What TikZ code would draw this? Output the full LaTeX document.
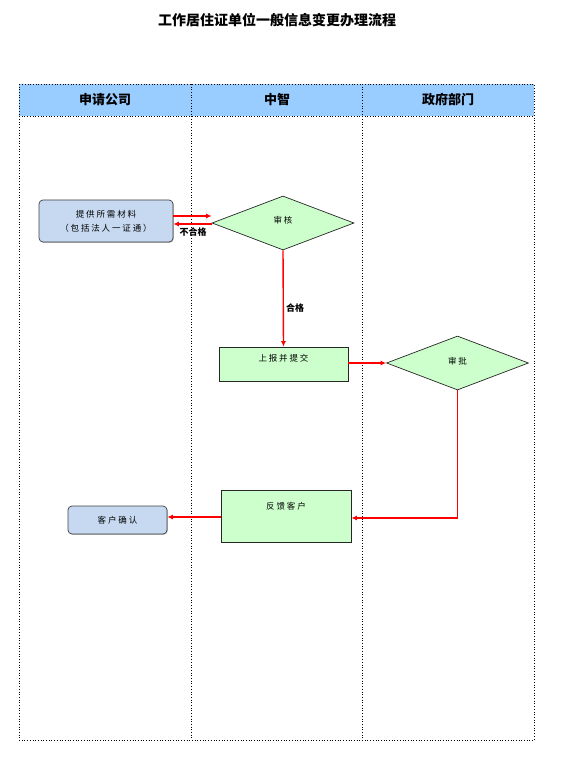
\documentclass[tikz,border=0pt]{standalone}
\usepackage{fontspec}
\setmainfont{Noto Sans CJK SC}
\newfontfamily\cjksp[LetterSpace=22]{Noto Sans CJK SC}
\usetikzlibrary{shapes.geometric,arrows.meta,shadows}
\definecolor{hdrblue}{HTML}{99CCFF}
\definecolor{boxblue}{HTML}{C6D9F1}
\definecolor{boxgreen}{HTML}{CCFFCC}
\definecolor{arrred}{HTML}{FF0000}
\begin{document}
\begin{tikzpicture}[x=1pt,y=-1pt,
  lane/.style={draw=black,dotted,line width=0.7pt},
  hdr/.style={font=\fontsize{13}{15}\selectfont\bfseries},
  bluebox/.style={draw=black!75,fill=boxblue,rounded corners=4pt,line width=0.7pt,
     drop shadow={shadow xshift=0.8pt,shadow yshift=-0.8pt,fill=black!50},
     font=\cjksp\fontsize{8.5}{14}\selectfont,align=center,inner sep=0pt},
  greenbox/.style={draw=black!85,fill=boxgreen,line width=0.7pt,inner sep=0pt,
     drop shadow={shadow xshift=0.8pt,shadow yshift=-0.8pt,fill=black!50}},
  decision/.style={diamond,draw=black!85,fill=boxgreen,line width=0.7pt,inner sep=0pt,
     minimum width=142pt,minimum height=54pt,aspect=2.63,font=\cjksp\fontsize{8.5}{10}\selectfont},
  boxtxt/.style={font=\cjksp\fontsize{8.5}{10}\selectfont,inner sep=0pt},
  lbl/.style={font=\fontsize{9}{10}\selectfont\bfseries,inner sep=0pt},
  flow/.style={draw=arrred,line width=1.4pt,-{Latex[length=5.5pt,width=5pt]}}
]
\useasboundingbox (0,0) rectangle (561,759);
% title
\node[font=\fontsize{14}{16}\selectfont\bfseries] (title) at (277,20) {工作居住证单位一般信息变更办理流程};
% header
\fill[hdrblue] (19,84) rectangle (534,116);
\draw[lane] (19,84) rectangle (534,740);
\draw[lane] (19,116) -- (534,116);
\draw[lane] (191,84) -- (191,740);
\draw[lane] (362,84) -- (362,740);
\node[hdr] (h1) at (105,100) {申请公司};
\node[hdr] (h2) at (277,100) {中智};
\node[hdr] (h3) at (448,100) {政府部门};
% nodes
\node[bluebox,minimum width=134pt,minimum height=42pt] (mat) at (106,221) {提供所需材料\\（包括法人一证通）};
\node[decision] (sh) at (283,223) {\raisebox{6pt}{审核}};
\node[greenbox,minimum width=129pt,minimum height=34pt] (sb) at (283.5,364) {};
\node[boxtxt] (sbt) at (283.5,358) {上报并提交};
\node[decision] (sp) at (457.5,363) {\raisebox{4pt}{审批}};
\node[greenbox,minimum width=130pt,minimum height=52pt] (fk) at (286,516) {};
\node[boxtxt] (fkt) at (286,506) {反馈客户};
\node[bluebox,minimum width=99pt,minimum height=28pt] (qr) at (117.5,520) {客户确认};
% connectors
\draw[flow] (mat.east|-0,216) -- (sh.west|-0,216);
\draw[flow] (sh.west|-0,224) -- (mat.east|-0,224);
\node[lbl] (bhg) at (193,232) {不合格};
\draw[flow] (sh.south) -- (sb.north);
\node[lbl] (hg) at (295,308) {合格};
\draw[flow] (sb.east|-0,363) -- (sp.west);
\draw[flow] (sp.south) -- (sp.south|-0,518) -- (fk.east|-0,518);
\draw[flow] (fk.west|-0,517) -- (qr.east|-0,517);
\end{tikzpicture}
\end{document}
